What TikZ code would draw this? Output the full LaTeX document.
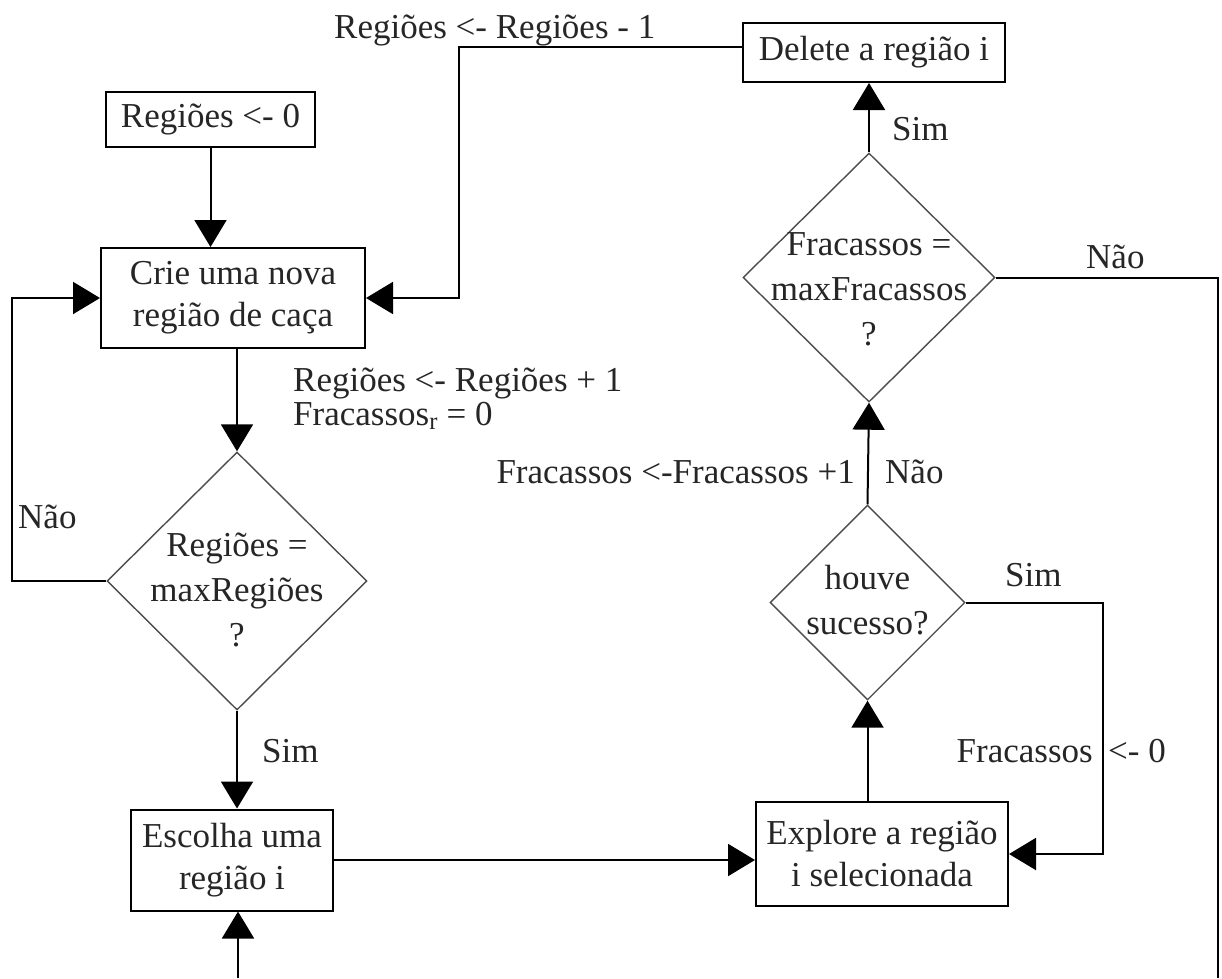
\documentclass[tikz,border=0pt]{standalone}
\usepackage{fontspec}
\setmainfont{Liberation Serif}
\usetikzlibrary{arrows.meta,shapes.geometric}
\begin{document}
\begin{tikzpicture}[x=1pt,y=-1pt,
  every node/.style={font=\fontsize{35}{42}\selectfont, text=black!85},
  box/.style={draw=black, line width=2pt, rectangle, inner sep=0pt, align=center},
  dia/.style={draw=black!70, line width=1.4pt, diamond, inner sep=0pt},
  dtext/.style={align=center, inner sep=0pt, font=\fontsize{35}{45}\selectfont},
  lbl/.style={inner sep=0pt, anchor=base west},
  conn/.style={line width=2pt, draw=black},
  arr/.style={conn, -{Triangle[length=27pt,width=32pt]}}]
\useasboundingbox (0,0) rectangle (1222,978);
\fill[white] (0,0) rectangle (1222,978);

% boxes
\node[box, minimum width=209pt, minimum height=55pt] (r0) at (210.5,119.5) {Regiões <- 0};
\node[box, minimum width=264pt, minimum height=100pt] (crie) at (233,298) {Crie uma nova\\região de caça};
\node[box, minimum width=202pt, minimum height=101pt] (esc) at (232,860) {Escolha uma\\região i};
\node[box, minimum width=252pt, minimum height=104pt] (exp) at (882,854) {Explore a região\\i selecionada};
\node[box, minimum width=262pt, minimum height=59pt] (del) at (874,52.5) {Delete a região i};

% diamonds
\node[dia, minimum width=260pt, minimum height=258pt,
  label={[dtext, yshift=-9pt]center:{Regiões =\\maxRegiões\\?}}] (d1) at (237,581) {};
\node[dia, minimum width=195pt, minimum height=195pt,
  label={[dtext, yshift=2pt]center:{houve\\sucesso?}}] (d2) at (867.5,602.5) {};
\node[dia, minimum width=252pt, minimum height=249pt,
  label={[dtext, yshift=-12pt]center:{Fracassos =\\maxFracassos\\?}}] (d3) at (869,277.5) {};

% free ends at the bottom edge
\coordinate (b1) at (238,978);
\coordinate (b2) at (1218,978);

% connectors
\draw[arr] (r0.south) -- (r0.south |- crie.north);
\draw[arr] (d1.north |- crie.south) -- (d1.north);
\draw[arr] (d1.west) -- ++(-94,0) |- (crie.west);
\draw[arr] (d1.south) -- (d1.south |- esc.north);
\draw[arr] (b1) -- (b1 |- esc.south);
\draw[arr] (esc.east) -- (esc.east -| exp.west);
\draw[arr] (d2.south |- exp.north) -- (d2.south);
\draw[arr] (d2.east) -- ++(137,0) |- (exp.east);
\draw[arr] (d2.north) -- (d3.south);
\draw[arr] (d3.north) -- (d3.north |- del.south);
\draw[conn] (d3.east) -| (b2);
\draw[arr] ([yshift=6pt]del.west) -- ++(-283,0) |- (crie.east);

% labels
\node[lbl] (l1) at (334,38) {Regiões <- Regiões - 1};
\node[lbl] (l2) at (892,140) {Sim};
\node[lbl] (l3) at (1086,268) {Não};
\node[inner sep=0pt, anchor=north west, align=left, font=\fontsize{35}{34}\selectfont] (l4) at (293,368)
  {Regiões <- Regiões + 1\\Fracassos\textsubscript{r} = 0};
\node[inner sep=0pt, anchor=base east] (l5) at (855,483) {Fracassos <-Fracassos +1};
\node[lbl] (l6) at (885,483) {Não};
\node[lbl] (l7) at (18,528) {Não};
\node[lbl] (l8) at (1005,586) {Sim};
\node[inner sep=0pt, anchor=base east] (l9) at (1093,762) {Fracassos};
\node[lbl] (l10) at (1108,762) {<- 0};
\node[lbl] (l11) at (262,762) {Sim};
\end{tikzpicture}
\end{document}
